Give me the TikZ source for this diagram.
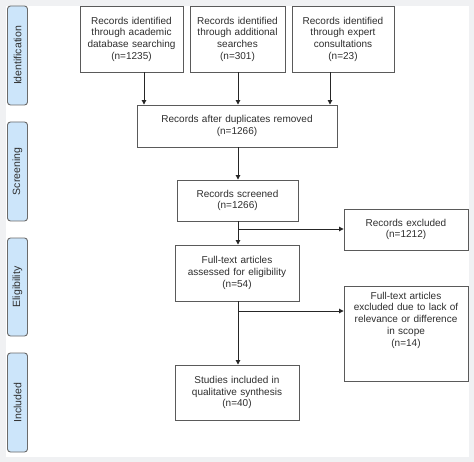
\documentclass[tikz,border=0pt]{standalone}
\usepackage{fontspec}
\setmainfont{Liberation Sans}
\usetikzlibrary{arrows.meta}
\definecolor{bggrey}{HTML}{F0F1F3}
\definecolor{sidefill}{HTML}{CCE5FA}
\definecolor{sidedraw}{HTML}{6A6A6A}
\definecolor{boxdraw}{HTML}{5A5A5A}
\definecolor{txt}{HTML}{2E2E2E}
\tikzset{
  box/.style={draw=boxdraw, line width=0.9bp, fill=white, inner sep=0pt, align=center,
    text=txt, font=\fontsize{10bp}{11.7bp}\selectfont},
  side/.style={draw=sidedraw, line width=0.9bp, fill=sidefill, rounded corners=3bp, inner sep=0pt,
    text=txt, font=\fontsize{10.5bp}{12bp}\selectfont},
  flow/.style={draw=black!85, line width=0.9bp, -{Triangle[length=4.5bp,width=4.5bp]}},
  plain/.style={draw=black!85, line width=0.9bp}
}
\newcommand{\bx}[6]{% name, x1, y1, x2, y2, text
  \node[box, minimum width={(#4-#2)*1bp}, minimum height={(#5-#3)*1bp}, text width={(#4-#2-6)*1bp}]
    (#1) at ({(#2+#4)/2},{(#3+#5)/2}) {#6};}
\newcommand{\sd}[4]{% name, y1, y2, text
  \node[side, minimum width=20bp, minimum height={(#3-#2)*1bp}] (#1) at (17.5,{(#2+#3)/2}) {};
  \node[rotate=90, text=txt, font=\fontsize{10.5bp}{12bp}\selectfont] at (#1.center) {#4};}
\begin{document}
\begin{tikzpicture}[x=1bp,y=-1bp]
\fill[bggrey] (0,0) rectangle (474,462);
\fill[white] (6,6) rectangle (469,457);
\useasboundingbox (0,0) rectangle (474,462);

\sd{s1}{6}{105}{Identification}
\sd{s2}{122}{221}{Screening}
\sd{s3}{238}{336}{Eligibility}
\sd{s4}{353}{452}{Included}

\bx{b1}{80}{6}{183}{72}{Records identified\\through academic\\database searching\\(n=1235)}
\bx{b2}{190}{6}{285}{72}{Records identified\\through additional\\searches\\(n=301)}
\bx{b3}{292}{6}{394}{72}{Records identified\\through expert\\consultations\\(n=23)}
\bx{dup}{137}{105}{337}{147}{Records after duplicates removed\\(n=1266)}
\bx{scr}{177}{180}{298}{221}{Records screened\\(n=1266)}
\bx{exc}{344}{209}{468}{250}{Records excluded\\(n=1212)}
\bx{ft}{175}{245}{299}{301}{Full-text articles\\assessed for eligibility\\(n=54)}
\bx{exc2}{344}{286}{468}{381}{}
\node[box, draw=none, fill=none, anchor=north, text width=118bp] (exc2t) at ([yshift=-6bp]exc2.north)
  {Full-text articles\\excluded due to lack of\\relevance or difference\\in scope\\(n=14)};
\bx{inc}{175}{365}{299}{420}{Studies included in\\qualitative synthesis\\(n=40)}

\draw[flow] (b1.south -| 144,0) -- (dup.north -| 144,0);
\draw[flow] (b2.south -| 238,0) -- (dup.north -| 238,0);
\draw[flow] (b3.south -| 330,0) -- (dup.north -| 330,0);
\draw[flow] (dup.south -| 238,0) -- (scr.north -| 238,0);
\draw[flow] (scr.south -| 238,0) -- (ft.north -| 238,0);
\coordinate (j1) at (238,229);
\draw[flow] (j1) -- (exc.west |- j1);
\draw[flow] (ft.south -| 238,0) -- (inc.north -| 238,0);
\coordinate (j2) at (238,311);
\draw[flow] (j2) -- (exc2.west |- j2);
\end{tikzpicture}
\end{document}
